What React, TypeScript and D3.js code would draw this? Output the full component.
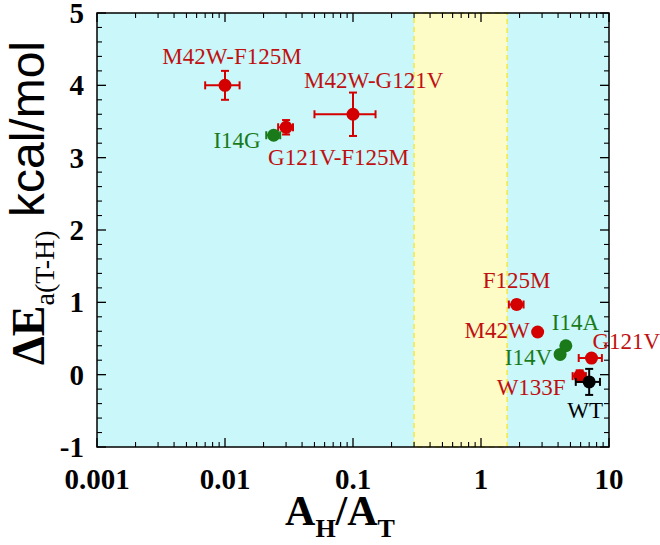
import * as d3 from "d3";

// mutants and their measured values
const mutants = ["M42W-F125M", "M42W-G121V", "G121V-F125M", "I14G", "F125M", "M42W", "I14A", "I14V", "G121V", "W133F", "WT"];
const ratio = [0.01, 0.1, 0.03, 0.024, 1.9, 2.77, 4.6, 4.15, 7.3, 5.9, 7.0];
const ratioErr = [0.003, 0.05, 0.004, 0.003, 0.25, 0, 0.25, 0.25, 1.5, 0.7, 1.5];
const dEa = [4.0, 3.6, 3.42, 3.31, 0.97, 0.59, 0.4, 0.28, 0.23, -0.02, -0.1];
const dEaErr = [0.2, 0.3, 0.1, 0.05, 0.06, 0, 0.05, 0.05, 0.05, 0.08, 0.18];
const kind = ["mut", "mut", "mut", "i14", "mut", "mut", "i14", "i14", "mut", "mut", "wt"];

const band = [0.3, 1.6];
const xTicks = [0.001, 0.01, 0.1, 1, 10];
const xTickLabels = ["0.001", "0.01", "0.1", "1", "10"];
const yTicks = [-1, 0, 1, 2, 3, 4, 5];

// label placement relative to the point (px)
const labelOffsets: [number, number, string][] = [
  [7, -21, "middle"],
  [-49, -26, "start"],
  [-18, 38, "start"],
  [-13, 13, "end"],
  [0, -17, "middle"],
  [-8, 6, "end"],
  [-14, -16, "start"],
  [-8, 11, "end"],
  [1, -9, "start"],
  [-14, 19, "end"],
  [-4, 36, "middle"],
];

const colors: Record<string, string> = { mut: "#d40000", i14: "#1a7a1a", wt: "#000000" };
const textColors: Record<string, string> = { mut: "#c01010", i14: "#1a7a1a", wt: "#000000" };

const W = 660;
const H = 545;
const margin = { left: 97, top: 13, right: 51, bottom: 98 };
const serif = "'Liberation Serif', 'Times New Roman', serif";
const sans = "'Liberation Sans', Arial, sans-serif";

export default function App() {
  const iw = W - margin.left - margin.right;
  const ih = H - margin.top - margin.bottom;
  const x = d3.scaleLog().domain([0.001, 10]).range([0, iw]);
  const y = d3.scaleLinear().domain([-1, 5]).range([ih, 0]);

  const minorX: number[] = [];
  for (let e = -3; e < 1; e++) for (let k = 2; k <= 9; k++) minorX.push(k * Math.pow(10, e));
  const minorY = d3.range(-1, 5.001, 0.2).filter((v) => Math.abs(v - Math.round(v)) > 0.01);

  const major = 9;
  const minor = 5;
  const cap = 4;

  return (
    <svg width={W} height={H} style={{ position: "absolute", left: 0, top: 0, background: "#fff" }}>
      <g transform={`translate(${margin.left},${margin.top})`}>
        <rect x={0} y={0} width={iw} height={ih} fill="#c9f7fa" />
        <rect
          x={x(band[0])}
          y={0}
          width={x(band[1]) - x(band[0])}
          height={ih}
          fill="#fdfbc6"
          stroke="#f2e844"
          strokeWidth={1.5}
          strokeDasharray="5,4"
        />

        {/* ticks */}
        {xTicks.map((t) => (
          <g key={"xt" + t}>
            <line x1={x(t)} x2={x(t)} y1={ih} y2={ih - major} stroke="#000" strokeWidth={1.3} />
            <line x1={x(t)} x2={x(t)} y1={0} y2={major} stroke="#000" strokeWidth={1.3} />
          </g>
        ))}
        {minorX.map((t) => (
          <g key={"xm" + t}>
            <line x1={x(t)} x2={x(t)} y1={ih} y2={ih - minor} stroke="#000" strokeWidth={1.1} />
            <line x1={x(t)} x2={x(t)} y1={0} y2={minor} stroke="#000" strokeWidth={1.1} />
          </g>
        ))}
        {yTicks.map((t) => (
          <g key={"yt" + t}>
            <line x1={0} x2={major} y1={y(t)} y2={y(t)} stroke="#000" strokeWidth={1.3} />
            <line x1={iw} x2={iw - major} y1={y(t)} y2={y(t)} stroke="#000" strokeWidth={1.3} />
          </g>
        ))}
        {minorY.map((t) => (
          <g key={"ym" + t}>
            <line x1={0} x2={minor} y1={y(t)} y2={y(t)} stroke="#000" strokeWidth={1.1} />
            <line x1={iw} x2={iw - minor} y1={y(t)} y2={y(t)} stroke="#000" strokeWidth={1.1} />
          </g>
        ))}
        <rect x={0} y={0} width={iw} height={ih} fill="none" stroke="#000" strokeWidth={1.5} />

        {/* tick labels */}
        {xTicks.map((t, i) => (
          <text
            key={"xl" + t}
            x={x(t)}
            y={ih + 42}
            textAnchor="middle"
            fontFamily={serif}
            fontWeight="bold"
            fontSize={29}
          >
            {xTickLabels[i]}
          </text>
        ))}
        {yTicks.map((t) => (
          <text
            key={"yl" + t}
            x={-13}
            y={y(t)}
            dy="0.35em"
            textAnchor="end"
            fontFamily={serif}
            fontWeight="bold"
            fontSize={29}
          >
            {t}
          </text>
        ))}

        {/* points with error bars */}
        {mutants.map((m, i) => {
          const cx = x(ratio[i]);
          const cy = y(dEa[i]);
          const c = colors[kind[i]];
          const x0 = x(ratio[i] - ratioErr[i]);
          const x1 = x(ratio[i] + ratioErr[i]);
          const y0 = y(dEa[i] - dEaErr[i]);
          const y1 = y(dEa[i] + dEaErr[i]);
          const [dx, dy, anchor] = labelOffsets[i];
          return (
            <g key={m}>
              {ratioErr[i] > 0 && (
                <g stroke={c} strokeWidth={2}>
                  <line x1={x0} x2={x1} y1={cy} y2={cy} />
                  <line x1={x0} x2={x0} y1={cy - cap} y2={cy + cap} />
                  <line x1={x1} x2={x1} y1={cy - cap} y2={cy + cap} />
                </g>
              )}
              {dEaErr[i] > 0 && (
                <g stroke={c} strokeWidth={2}>
                  <line x1={cx} x2={cx} y1={y0} y2={y1} />
                  <line x1={cx - cap} x2={cx + cap} y1={y0} y2={y0} />
                  <line x1={cx - cap} x2={cx + cap} y1={y1} y2={y1} />
                </g>
              )}
              <circle cx={cx} cy={cy} r={6.5} fill={c} />
              <text
                x={cx + dx}
                y={cy + dy}
                textAnchor={anchor}
                fontFamily={serif}
                fontSize={23}
                fill={textColors[kind[i]]}
              >
                {m}
              </text>
            </g>
          );
        })}
      </g>

      {/* axis titles */}
      <text x={margin.left + iw / 2 - 13} y={525} textAnchor="middle" fontFamily={serif} fontWeight="bold" fontSize={42}>
        A<tspan fontSize={26} dy={12}>H</tspan>
        <tspan dy={-12}>/A</tspan>
        <tspan fontSize={26} dy={12}>T</tspan>
      </text>
      <text transform={`translate(44,203) rotate(-90)`} textAnchor="middle">
        <tspan fontFamily={serif} fontWeight="bold" fontSize={46}>ΔE</tspan>
        <tspan fontFamily={serif} fontSize={28} dy={10}>a(T-H)</tspan>
        <tspan fontFamily={sans} fontSize={48} dy={-10}> kcal/mol</tspan>
      </text>
    </svg>
  );
}
